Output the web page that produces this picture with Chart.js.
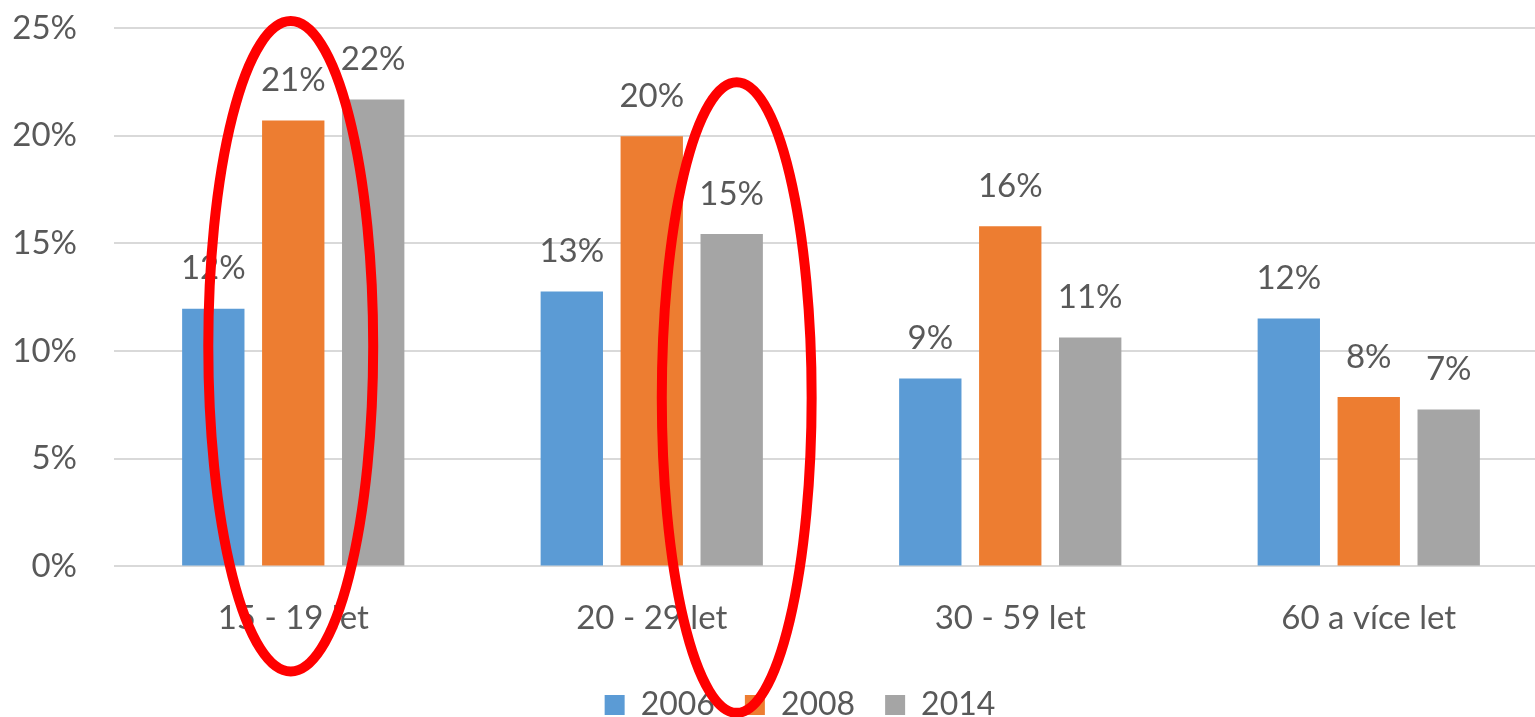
<!DOCTYPE html>
<html>
<head>
<meta charset="utf-8">
<script src="https://cdn.jsdelivr.net/npm/chart.js@4/dist/chart.umd.min.js"></script>
<style>
  html, body { margin: 0; padding: 0; background: #fff; overflow: hidden; }
  #wrap { position: absolute; left: 0; top: 0; width: 1548px; height: 717px; }
</style>
</head>
<body>
<div id="wrap"><canvas id="c"></canvas></div>
<script>
const categories = ['15 - 19 let', '20 - 29 let', '30 - 59 let', '60 a více let'];
const seriesNames = ['2006', '2008', '2014'];
const values2006 = [11.96, 12.76, 8.72, 11.51];
const values2008 = [20.70, 19.97, 15.80, 7.87];
const values2014 = [21.68, 15.44, 10.63, 7.29];
const yTicks = [0, 5, 10, 15, 20, 25];
// red highlight ellipses: centre (category index, value %), radii (categories, value %)
const highlightX = [-0.007, 1.237];
const highlightY = [10.22, 7.84];
const highlightRx = [0.23, 0.209];
const highlightRy = [15.1, 14.64];

const colors = ['#5B9BD5', '#ED7D31', '#A5A5A5'];
const textColor = '#595959';
const FONT = 'Lato, "Open Sans", sans-serif';

const valueLabels = {
  id: 'valueLabels',
  afterDatasetsDraw(chart) {
    const ctx = chart.ctx;
    ctx.save();
    ctx.font = '33px ' + FONT;
    ctx.fillStyle = textColor;
    ctx.textAlign = 'center';
    ctx.textBaseline = 'middle';
    chart.data.datasets.forEach((ds, i) => {
      const meta = chart.getDatasetMeta(i);
      meta.data.forEach((el, j) => {
        ctx.fillText(Math.round(ds.data[j]) + '%', el.x, el.y - 40);
      });
    });
    ctx.restore();
  }
};

const legendShift = {
  id: 'legendShift',
  afterLayout(chart) {
    const lg = chart.legend;
    if (!lg) return;
    lg.left += 26; lg.right += 26;
    lg.top -= 11; lg.bottom -= 11;
  }
};

const ellipses = {
  id: 'ellipses',
  afterDraw(chart) {
    const ctx = chart.ctx;
    const xs = chart.scales.x, ys = chart.scales.y;
    ctx.save();
    ctx.strokeStyle = '#FF0000';
    ctx.lineWidth = 10;
    for (let i = 0; i < highlightX.length; i++) {
      const cx = xs.getPixelForValue(highlightX[i]);
      const cy = ys.getPixelForValue(highlightY[i]);
      const rx = xs.getPixelForValue(highlightX[i] + highlightRx[i]) - cx;
      const ry = ys.getPixelForValue(0) - ys.getPixelForValue(highlightRy[i]);
      ctx.beginPath();
      ctx.ellipse(cx, cy, rx, ry, 0, 0, Math.PI * 2);
      ctx.stroke();
    }
    ctx.restore();
  }
};

new Chart(document.getElementById('c'), {
  type: 'bar',
  data: {
    labels: categories,
    datasets: [values2006, values2008, values2014].map((d, i) => ({
      label: seriesNames[i],
      data: d,
      backgroundColor: colors[i],
      borderWidth: 0,
      categoryPercentage: 0.669,
      barPercentage: 0.78
    }))
  },
  options: {
    responsive: true,
    maintainAspectRatio: false,
    devicePixelRatio: 1,
    animation: false,
    layout: { padding: { left: 0, right: 0, top: 28, bottom: -25 } },
    plugins: {
      tooltip: { enabled: false },
      legend: {
        position: 'bottom',
        labels: {
          boxWidth: 20,
          boxHeight: 20,
          padding: 30,
          color: textColor,
          font: { family: FONT, size: 32 }
        }
      }
    },
    scales: {
      x: {
        grid: { display: false, drawTicks: false },
        border: { display: false },
        ticks: { color: textColor, font: { family: FONT, size: 33 }, padding: 32 }
      },
      y: {
        min: 0, max: 25,
        afterFit(s) { s.width = 114; s.paddingTop = 0; s.paddingBottom = 0; },
        afterBuildTicks(s) { s.ticks = yTicks.map(v => ({ value: v })); },
        grid: { color: '#D9D9D9', lineWidth: 2, drawTicks: false },
        border: { display: false },
        ticks: {
          color: textColor,
          font: { family: FONT, size: 33 },
          padding: 37,
          callback: v => v + '%'
        }
      }
    }
  },
  plugins: [valueLabels, legendShift, ellipses]
});
</script>
</body>
</html>
